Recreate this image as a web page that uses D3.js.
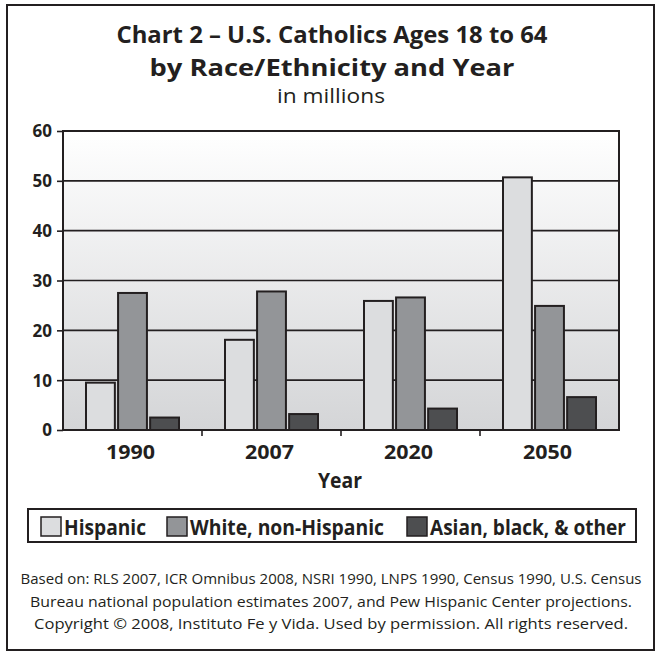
<!DOCTYPE html>
<html>
<head>
<meta charset="utf-8">
<script src="https://cdn.jsdelivr.net/npm/d3@7"></script>
<style>
  html, body { margin: 0; padding: 0; background: #ffffff; }
  svg { display: block; }
  text { font-family: "Myriad Pro", "Open Sans", "Noto Sans", sans-serif; fill: #231f20; }
</style>
</head>
<body>
<svg id="chart" width="657" height="654"></svg>
<script>
const years = ["1990", "2007", "2020", "2050"];
const seriesNames = ["Hispanic", "White, non-Hispanic", "Asian, black, & other"];
const hispanic = [9.5, 18.1, 25.9, 50.7];
const whiteNonHispanic = [27.5, 27.8, 26.6, 24.9];
const asianBlackOther = [2.5, 3.2, 4.3, 6.6];
const yTicks = [0, 10, 20, 30, 40, 50, 60];
const seriesColors = ["#dcdddf", "#939598", "#4d4e50"];
const titleLines = ["Chart 2 \u2013 U.S. Catholics Ages 18 to 64", "by Race/Ethnicity and Year"];
const subtitle = "in millions";
const xAxisTitle = "Year";
const footnoteLines = [
  "Based on: RLS 2007, ICR Omnibus 2008, NSRI 1990, LNPS 1990, Census 1990, U.S. Census",
  "Bureau national population estimates 2007, and Pew Hispanic Center projections.",
  "Copyright \u00a9 2008, Instituto Fe y Vida. Used by permission. All rights reserved."
];

const seriesValues = [hispanic, whiteNonHispanic, asianBlackOther];
const data = years.map((y, i) => ({ year: y, values: seriesValues.map(s => s[i]) }));

const svg = d3.select("#chart");
const ink = "#231f20";

// outer frame
svg.append("rect").attr("x", 7).attr("y", 5).attr("width", 647).attr("height", 645)
  .attr("fill", "none").attr("stroke", ink).attr("stroke-width", 2);

// titles
const titleY = [43, 76];
const titleW = [431, 365];
titleLines.forEach((t, i) => {
  svg.append("text").attr("x", 332).attr("y", titleY[i]).attr("text-anchor", "middle")
    .attr("font-size", 24).attr("font-weight", "bold")
    .attr("textLength", titleW[i]).attr("lengthAdjust", "spacingAndGlyphs").text(t);
});
svg.append("text").attr("x", 331).attr("y", 103).attr("text-anchor", "middle")
  .attr("font-size", 20).attr("textLength", 108).attr("lengthAdjust", "spacingAndGlyphs").text(subtitle);

// plot area
const m = { left: 63, right: 619, top: 131, bottom: 430 };
const y = d3.scaleLinear().domain([0, 60]).range([m.bottom, m.top]);
const x0 = d3.scaleBand().domain(years).range([m.left, m.right]).padding(0);
const x1 = d3.scaleBand().domain(d3.range(seriesNames.length))
  .range([23, 116]).paddingInner(0.1).paddingOuter(0);

const defs = svg.append("defs");
const grad = defs.append("linearGradient").attr("id", "bg").attr("x1", 0).attr("y1", 0).attr("x2", 0).attr("y2", 1);
grad.append("stop").attr("offset", "0%").attr("stop-color", "#ffffff");
grad.append("stop").attr("offset", "100%").attr("stop-color", "#d4d5d7");

svg.append("rect").attr("x", m.left).attr("y", m.top)
  .attr("width", m.right - m.left).attr("height", m.bottom - m.top).attr("fill", "url(#bg)");

// gridlines
svg.append("g").selectAll("line").data(yTicks.filter(d => d > 0 && d < 60)).join("line")
  .attr("x1", m.left).attr("x2", m.right).attr("y1", d => y(d)).attr("y2", d => y(d))
  .attr("stroke", ink).attr("stroke-width", 1.6);

// bars
const groups = svg.append("g").selectAll("g").data(data).join("g")
  .attr("transform", d => `translate(${x0(d.year)},0)`);
groups.selectAll("rect").data(d => d.values.map((v, i) => ({ v, i }))).join("rect")
  .attr("x", d => x1(d.i)).attr("width", x1.bandwidth())
  .attr("y", d => y(d.v)).attr("height", d => y(0) - y(d.v))
  .attr("fill", d => seriesColors[d.i]).attr("stroke", ink).attr("stroke-width", 2);

// plot border
svg.append("rect").attr("x", m.left).attr("y", m.top)
  .attr("width", m.right - m.left).attr("height", m.bottom - m.top)
  .attr("fill", "none").attr("stroke", ink).attr("stroke-width", 2);

// y axis
const yAxis = svg.append("g").attr("transform", `translate(${m.left},0)`)
  .call(d3.axisLeft(y).tickValues(yTicks).tickSize(6).tickPadding(5));
yAxis.select(".domain").remove();
yAxis.selectAll(".tick line").attr("stroke", ink).attr("stroke-width", 1.6);
yAxis.selectAll(".tick text").attr("font-size", 17).attr("font-weight", "bold")
  .attr("fill", ink).attr("font-family", null).attr("dy", "0.35em");

// x axis: ticks at category boundaries
const boundaries = years.slice(1).map(yv => x0(yv));
svg.append("g").selectAll("line").data(boundaries).join("line")
  .attr("x1", d => d).attr("x2", d => d).attr("y1", m.bottom).attr("y2", m.bottom + 6)
  .attr("stroke", ink).attr("stroke-width", 1.6);
svg.append("g").selectAll("text").data(years).join("text")
  .attr("x", d => x0(d) + x0.bandwidth() / 2 - 2).attr("y", 459)
  .attr("text-anchor", "middle").attr("font-size", 20).attr("font-weight", "bold")
  .attr("textLength", 49).attr("lengthAdjust", "spacingAndGlyphs").text(d => d);

svg.append("text").attr("x", 340).attr("y", 488).attr("text-anchor", "middle")
  .attr("font-size", 21).attr("font-weight", "bold")
  .attr("textLength", 44).attr("lengthAdjust", "spacingAndGlyphs").text(xAxisTitle);

// legend
svg.append("rect").attr("x", 28).attr("y", 509).attr("width", 608).attr("height", 33)
  .attr("fill", "#ffffff").attr("stroke", ink).attr("stroke-width", 2);
const legendSwatchX = [41, 167, 407];
const legendTextW = [82, 194, 196];
seriesNames.forEach((name, i) => {
  svg.append("rect").attr("x", legendSwatchX[i]).attr("y", 517).attr("width", 20).attr("height", 19)
    .attr("fill", seriesColors[i]).attr("stroke", ink).attr("stroke-width", 1.5);
  svg.append("text").attr("x", legendSwatchX[i] + 23).attr("y", 535)
    .attr("font-size", 22).attr("font-weight", "bold")
    .attr("textLength", legendTextW[i]).attr("lengthAdjust", "spacingAndGlyphs").text(name);
});

// footnote
const footY = [584, 607, 629];
const footW = [621, 602, 594];
footnoteLines.forEach((t, i) => {
  svg.append("text").attr("x", 331).attr("y", footY[i]).attr("text-anchor", "middle")
    .attr("font-size", 15).attr("textLength", footW[i]).attr("lengthAdjust", "spacingAndGlyphs").text(t);
});
</script>
</body>
</html>
